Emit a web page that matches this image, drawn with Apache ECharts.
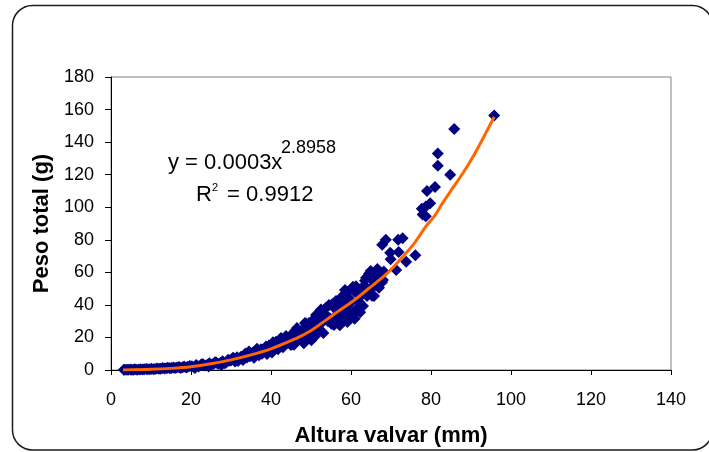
<!DOCTYPE html>
<html>
<head>
<meta charset="utf-8">
<script src="https://cdn.jsdelivr.net/npm/echarts@6/dist/echarts.min.js"></script>
<style>
html,body{margin:0;padding:0;background:#fff;}
#chart{width:709px;height:452px;}
</style>
</head>
<body>
<div id="chart"></div>
<script>
// Altura valvar (mm) of each specimen
var heightMm = [
3.2,3.5,4,4.3,4.8,5.2,5.6,6,6.5,7,7.4,7.9,8.3,8.8,9.2,9.7,10.1,10.6,11,11.5,12,12.4,12.9,13.3,13.8,14.2,14.7,15.1,15.6,16,16.5,17,17.4,17.9,18.3,18.8,19.2,19.7,
20.2,20.8,21.3,21.9,22.4,23,23.5,24.1,24.6,25.2,25.7,26.3,26.8,27.4,27.9,28.5,29,29.6,
21,22.7,24.4,26,27.6,29.3,
30,30.5,31,31.5,32,32.5,33,33.5,34,34.5,35,35.5,36,36.5,37,37.5,38,38.5,39,39.5,
40,40.5,41,41.5,42,42.5,43,43.5,44,44.5,45,45.5,46,46.5,47,47.5,48,48.5,49,49.5,
50,50.5,51,51.5,52,52.5,53,53.5,54,54.5,55,55.5,56,56.5,57,57.5,58,58.5,59,59.5,
60,60.5,61,61.5,62,62.5,63,63.5,64,64.5,65,65.5,66,66.5,67,67.5,68,
40.25,41.25,42.25,43.25,44.25,45.25,46.25,47.25,48.25,49.25,50.25,51.25,52.25,53.25,54.25,
55.25,56.25,57.25,58.25,59.25,60.25,61.25,62.25,63.25,64.25,65.25,66.25,67.25,
30.75,31.75,32.75,33.75,34.75,35.75,36.75,37.75,38.75,39.75,40.75,41.75,42.75,43.75,44.75,
45.75,46.75,47.75,48.75,49.75,50.75,51.75,52.75,53.75,54.75,55.75,56.75,57.75,58.75,59.75,
60.75,61.75,62.75,63.75,64.75,65.75,66.75,67.75,
48.2,50.1,51.6,53.1,55.4,57.2,59.1,60.9,62.3,
64.9,65.8,66.6,68.2,
67.8,68.7,69.8,69.9,71.3,71.8,72.9,71.9,73.8,76.1,77.7,77.9,78.7,78.7,79.8,79,81,81.7,81.7,84.8,85.8,95.8
];
// Peso total (g) of each specimen
var weightG = [
0.1,0.2,0.1,0.2,0.3,0.1,0.2,0.4,0.2,0.3,0.5,0.3,0.4,0.6,0.4,0.5,0.8,0.5,0.6,0.9,0.7,0.8,1.2,0.9,1.0,1.4,1.0,1.2,1.6,1.3,1.5,1.9,1.3,1.7,2.2,1.6,2.0,2.5,
2.3,1.7,3.0,2.2,2.9,3.5,2.7,3.3,4.1,3.2,3.8,4.6,3.7,4.4,5.3,4.2,5.1,5.9,
1.3,3.5,2.2,4.8,3.0,6.3,
5.8,7.6,5.2,7.8,6.6,8.1,6.1,9.9,7.7,11.4,9.1,10.7,10.3,13.0,9.0,12.8,10.7,12.9,9.8,15.1,
11.5,17.1,13.9,16.2,15.8,19.6,14.0,19.5,16.8,19.6,15.3,22.8,17.8,25.8,20.6,23.8,22.8,28.9,19.6,28.8,
23.5,28.5,20.8,33.5,25.1,37.2,29.8,34.1,33.1,40.0,28.7,38.8,32.8,38.3,29.3,44.5,33.9,49.1,38.7,44.0,
41.8,51.2,36.2,49.0,41.7,48.3,39.3,54.8,45.5,59.1,50.5,55.3,53.8,60.9,50.5,59.3,55.3,
10.8,17.4,15.7,18.7,16.7,15.9,24.5,21.4,25.5,21.7,20.4,33.8,29.1,34.4,29.9,
28.2,42.4,37.1,43.3,36.2,33.7,51.4,45.0,51.8,46.8,45.6,60.0,55.3,
7.0,5.6,7.7,10.2,8.5,7.5,11.6,10.0,14.4,12.9,15.8,12.7,16.7,20.9,17.5,
15.5,23.0,19.5,28.6,25.5,31.3,23.7,31.1,38.3,31.6,27.7,40.0,34.1,47.3,41.2,
48.4,38.2,47.7,56.7,49.0,45.5,57.4,53.9,
16.5,18.2,33.5,22.8,40.5,27.5,29.5,31.5,35.5,
60.8,58.7,62.0,60.5,
77,80,72,68,61.5,80,81,72.5,66.5,70.5,99,95.5,94.5,100.5,102.5,110,112.5,125.5,133,120,148,156.3
];
// Power trend line y = 0.0003x^2.8958 as drawn in the figure
var trendX = [3,10,15,20,25,30,35,40,45,47.25,50.6,55.6,60.6,64.75,69.1,73.1,76,78.5,81,83,85.5,88,90.5,92.5,95.8];
var trendY = [0.05,0.4,1.0,2.0,3.8,6.2,9.3,13,18,20.5,25.2,34,42.5,50.7,59.5,70,78.4,87.5,95,103,112,121,131,140,155.5];

var xTicks = {min:0, max:140, interval:20};
var yTicks = {min:0, max:180, interval:20};

var scatterData = heightMm.map(function(x,i){return [x, weightG[i]];});
var trendData = trendX.map(function(x,i){return [x, trendY[i]];});

var chart = echarts.init(document.getElementById('chart'), null, {renderer:'canvas'});
var FONT = '"Liberation Sans", Arial, sans-serif';
chart.setOption({
  animation:false,
  backgroundColor:'#fff',
  grid:{left:111, right:38, top:77, bottom:81, show:true, borderColor:'#808080', borderWidth:1, backgroundColor:'transparent'},
  xAxis:{
    type:'value', min:xTicks.min, max:xTicks.max, interval:xTicks.interval,
    name:'Altura valvar (mm)', nameLocation:'middle', nameGap:55,
    nameTextStyle:{fontFamily:FONT, fontWeight:'bold', fontSize:22, color:'#000'},
    axisLine:{show:true, onZero:false, lineStyle:{color:'#000', width:1}},
    axisTick:{show:true, inside:false, length:5, lineStyle:{color:'#000'}},
    axisLabel:{fontFamily:FONT, fontSize:18, color:'#000', margin:21},
    splitLine:{show:false}
  },
  yAxis:{
    type:'value', min:yTicks.min, max:yTicks.max, interval:yTicks.interval,
    name:'Peso total (g)', nameLocation:'middle', nameGap:52,
    nameTextStyle:{fontFamily:FONT, fontWeight:'bold', fontSize:22, color:'#000'},
    axisLine:{show:true, onZero:false, lineStyle:{color:'#000', width:1}},
    axisTick:{show:true, inside:false, length:6, lineStyle:{color:'#000'}},
    axisLabel:{fontFamily:FONT, fontSize:18, color:'#000', margin:17},
    splitLine:{show:false}
  },
  series:[
    {type:'scatter', data:scatterData, symbol:'diamond', symbolSize:12,
     itemStyle:{color:'#000080', opacity:1}, z:2},
    {type:'line', data:trendData, showSymbol:false, symbol:'none', smooth:0.3,
     lineStyle:{color:'#FF6600', width:3}, z:3}
  ],
  graphic:[
    {type:'rect', shape:{x:12.5, y:5.5, width:700, height:444.5, r:20}, z:-10,
     style:{fill:'none', stroke:'#1a1a1a', lineWidth:1.5}},
    {type:'text', left:168, top:152, z:10, style:{text:'y = 0.0003x', font:'22px "Liberation Sans", Arial, sans-serif', fill:'#000'}},
    {type:'text', left:281, top:139, z:10, style:{text:'2.8958', font:'18px "Liberation Sans", Arial, sans-serif', fill:'#000'}},
    {type:'text', left:196, top:184, z:10, style:{text:'R', font:'22px "Liberation Sans", Arial, sans-serif', fill:'#000'}},
    {type:'text', left:212, top:182, z:10, style:{text:'2', font:'11px "Liberation Sans", Arial, sans-serif', fill:'#000'}},
    {type:'text', left:221, top:184, z:10, style:{text:' = 0.9912', font:'22px "Liberation Sans", Arial, sans-serif', fill:'#000'}}
  ]
});
</script>
</body>
</html>
